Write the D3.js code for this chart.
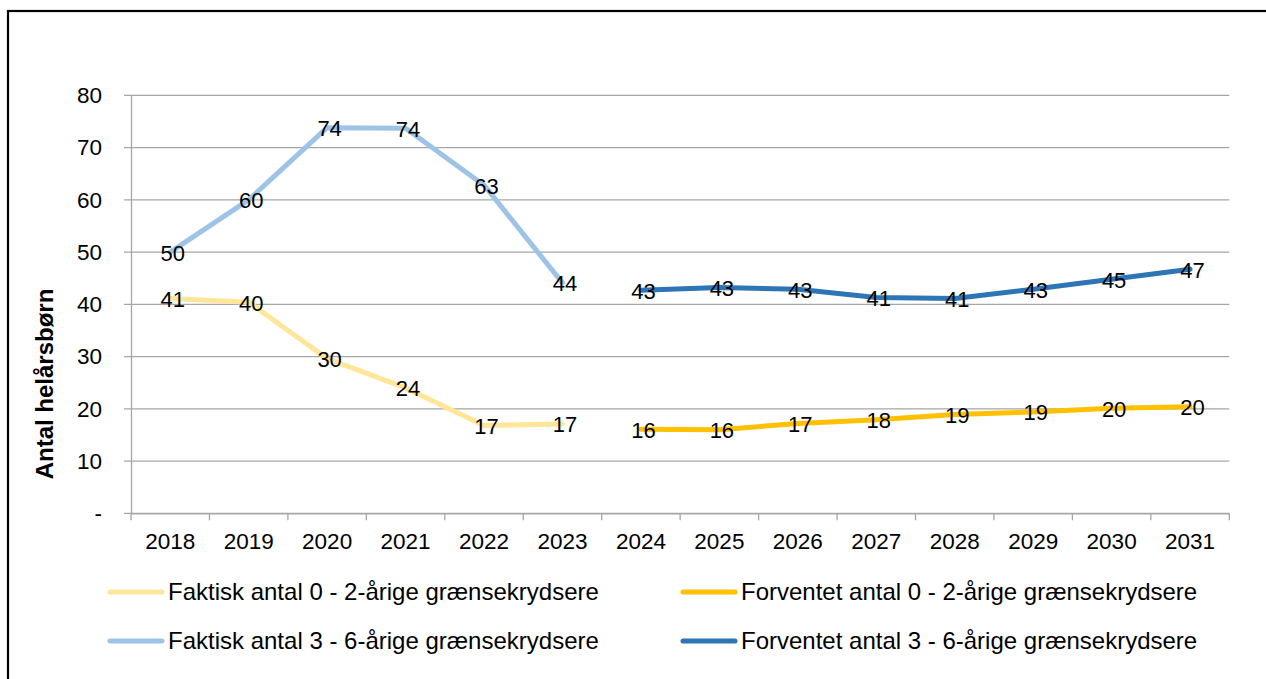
<!DOCTYPE html>
<html><head><meta charset="utf-8">
<script src="https://cdn.jsdelivr.net/npm/d3@7"></script>
<style>body{margin:0;background:#fff;} svg{display:block;font-family:"Liberation Sans",Arial,sans-serif;}</style>
</head><body>
<svg id="c" width="1266" height="679"></svg>
<script>
const years = ["2018","2019","2020","2021","2022","2023","2024","2025","2026","2027","2028","2029","2030","2031"];
const faktisk02 = [41.1, 40.4, 29.6, 24.0, 16.8, 17.1, null, null, null, null, null, null, null, null];
const forventet02 = [null, null, null, null, null, null, 16.1, 16.0, 17.2, 17.9, 18.9, 19.4, 20.1, 20.4];
const faktisk36 = [50.0, 60.0, 73.8, 73.7, 62.8, 44.1, null, null, null, null, null, null, null, null];
const forventet36 = [null, null, null, null, null, null, 42.7, 43.2, 42.9, 41.3, 41.1, 42.9, 44.8, 46.7];
const yTicks = [0, 10, 20, 30, 40, 50, 60, 70, 80];
const yTickLabels = ["-", "10", "20", "30", "40", "50", "60", "70", "80"];
const seriesNames = ["Faktisk antal 0 - 2-årige grænsekrydsere","Forventet antal 0 - 2-årige grænsekrydsere","Faktisk antal 3 - 6-årige grænsekrydsere","Forventet antal 3 - 6-årige grænsekrydsere"];
const seriesColors = ["#FFE699","#FFC000","#9DC3E6","#2E75B6"];
const yTitle = "Antal helårsbørn";

(function(){
const series = [faktisk02, forventet02, faktisk36, forventet36].map((v,i)=>({name:seriesNames[i], color:seriesColors[i], values:v}));
const FONT = "Liberation Sans, Arial, sans-serif";
const svg = d3.select("#c");
svg.append("rect").attr("x",8).attr("y",11).attr("width",1400).attr("height",800)
  .attr("fill","none").attr("stroke","#000").attr("stroke-width",2.2);

const pL=131, pR=1229.3, pT=95.3, pB=513.3;
const x = d3.scaleBand().domain(years).range([pL,pR]);
const y = d3.scaleLinear().domain([0,80]).range([pB,pT]);

svg.append("g").selectAll("line").data(yTicks).join("line")
  .attr("x1",pL-7).attr("x2",pR).attr("y1",d=>y(d)).attr("y2",d=>y(d))
  .attr("stroke","#A6A6A6").attr("stroke-width",1.3);

const yAxis = svg.append("g").attr("transform",`translate(${pL},0)`)
  .call(d3.axisLeft(y).tickValues(yTicks).tickFormat((d,i)=>yTickLabels[i]).tickSize(0).tickPadding(29));
yAxis.select(".domain").attr("stroke","#A6A6A6").attr("stroke-width",1.3);
yAxis.selectAll("text").attr("font-size",22.5).attr("fill","#000").attr("font-family",FONT);

const xAxis = svg.append("g").attr("transform",`translate(0,${pB})`)
  .call(d3.axisBottom(x).tickSize(0).tickPadding(20));
xAxis.select(".domain").attr("stroke","#A6A6A6").attr("stroke-width",1.3);
xAxis.selectAll("text").attr("font-size",22.5).attr("fill","#000").attr("font-family",FONT);
const bounds = years.map(d=>x(d)).concat([pR]);
svg.append("g").selectAll("line").data(bounds).join("line")
  .attr("x1",d=>d).attr("x2",d=>d).attr("y1",pB).attr("y2",pB+7)
  .attr("stroke","#A6A6A6").attr("stroke-width",1.3);

svg.append("text").attr("transform","translate(53,384) rotate(-90)")
  .attr("text-anchor","middle").attr("font-weight","bold").attr("font-size",24)
  .text(yTitle);

const cx = d => x(d) + x.bandwidth()/2;
const line = d3.line().defined(d=>d.v!=null).x(d=>cx(d.year)).y(d=>y(d.v));

series.forEach(s=>{
  const pts = years.map((yr,i)=>({year:yr, v:s.values[i]}));
  svg.append("path").datum(pts).attr("d",line).attr("fill","none")
    .attr("stroke",s.color).attr("stroke-width",5).attr("stroke-linejoin","round").attr("stroke-linecap","round");
});
series.forEach(s=>{
  const pts = years.map((yr,i)=>({year:yr, v:s.values[i]})).filter(d=>d.v!=null);
  svg.append("g").selectAll("text").data(pts).join("text")
    .attr("x",d=>cx(d.year)+2.5).attr("y",d=>y(d.v)+8.5)
    .attr("text-anchor","middle").attr("font-size",22).attr("fill","#000")
    .text(d=>Math.round(d.v));
});

const legendPos = [[108,592],[681,592],[108,641],[681,641]];
series.forEach((s,i)=>{
  const [lx,ly] = legendPos[i];
  svg.append("line").attr("x1",lx+2).attr("x2",lx+54).attr("y1",ly).attr("y2",ly)
    .attr("stroke",s.color).attr("stroke-width",5).attr("stroke-linecap","round");
  svg.append("text").attr("x",lx+60).attr("y",ly+8).attr("font-size",24).attr("fill","#000").text(s.name);
});
})();
</script>
</body></html>
